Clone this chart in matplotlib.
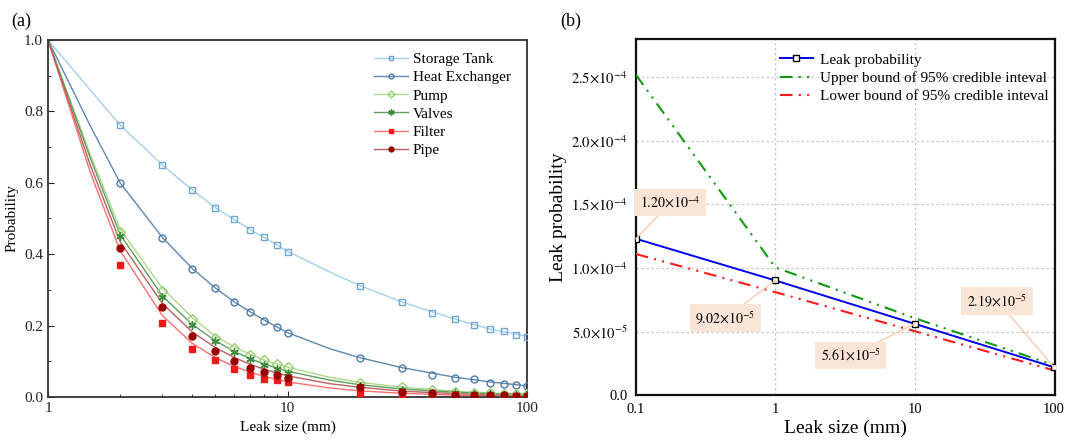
import numpy as np
import matplotlib
matplotlib.use('Agg')
import matplotlib.pyplot as plt
from matplotlib.ticker import FixedLocator, FuncFormatter, NullFormatter

plt.rcParams['font.family'] = ['Liberation Serif', 'DejaVu Serif']
plt.rcParams['mathtext.fontset'] = 'stix'

# ---- panel (a) data ----
sizes = [2, 3, 4, 5, 6, 7, 8, 9, 10, 20, 30, 40, 50, 60, 70, 80, 90, 100]
storage = [0.761, 0.649, 0.581, 0.530, 0.499, 0.468, 0.447, 0.426, 0.407, 0.311, 0.266, 0.235, 0.218, 0.202, 0.191, 0.184, 0.174, 0.169]
heat = [0.598, 0.446, 0.359, 0.304, 0.266, 0.238, 0.214, 0.196, 0.179, 0.110, 0.082, 0.062, 0.053, 0.049, 0.039, 0.036, 0.033, 0.030]
pump = [0.462, 0.297, 0.219, 0.164, 0.138, 0.118, 0.102, 0.091, 0.084, 0.038, 0.027, 0.018, 0.014, 0.012, 0.010, 0.009, 0.008, 0.007]
valves = [0.451, 0.279, 0.201, 0.157, 0.126, 0.107, 0.088, 0.078, 0.068, 0.030, 0.020, 0.012, 0.010, 0.008, 0.007, 0.006, 0.005, 0.005]
filt = [0.370, 0.207, 0.133, 0.102, 0.077, 0.062, 0.049, 0.046, 0.041, 0.011, 0.008, 0.006, 0.004, 0.003, 0.002, 0.002, 0.002, 0.002]
pipe = [0.416, 0.253, 0.171, 0.129, 0.100, 0.082, 0.070, 0.060, 0.054, 0.028, 0.014, 0.010, 0.006, 0.005, 0.004, 0.004, 0.003, 0.003]

# fitted curves
fit_x = [1, 1.5, 2, 3, 4, 5, 6, 7, 8, 10, 15, 20, 30, 50, 70, 100]
storage_fit = [1.0, 0.86, 0.762, 0.650, 0.580, 0.530, 0.497, 0.468, 0.447, 0.408, 0.350, 0.312, 0.266, 0.218, 0.190, 0.170]
heat_fit = [1.0, 0.76, 0.600, 0.447, 0.360, 0.305, 0.266, 0.238, 0.215, 0.180, 0.135, 0.110, 0.082, 0.055, 0.042, 0.031]
pump_fit = [1.0, 0.68, 0.470, 0.305, 0.222, 0.170, 0.140, 0.119, 0.103, 0.083, 0.055, 0.041, 0.027, 0.016, 0.011, 0.008]
valves_fit = [1.0, 0.67, 0.455, 0.283, 0.203, 0.157, 0.127, 0.107, 0.092, 0.072, 0.047, 0.034, 0.022, 0.013, 0.009, 0.006]
pipe_fit = [1.0, 0.65, 0.435, 0.262, 0.182, 0.138, 0.110, 0.091, 0.077, 0.059, 0.037, 0.027, 0.016, 0.009, 0.006, 0.004]
filt_fit = [1.0, 0.63, 0.410, 0.228, 0.150, 0.110, 0.085, 0.069, 0.057, 0.042, 0.025, 0.017, 0.010, 0.005, 0.003, 0.002]

names_a = ['Storage Tank', 'Heat Exchanger', 'Pump', 'Valves', 'Filter', 'Pipe']

# ---- panel (b) data ----
leak_x = [0.1, 1, 10, 100]
leak_p = [1.23e-4, 9.02e-5, 5.61e-5, 2.19e-5]
upper = [2.52e-4, 1.005e-4, 6.05e-5, 2.36e-5]
lower = [1.11e-4, 8.1e-5, 5.03e-5, 1.95e-5]
leak_labels = [r'$1.20{\times}10^{-4}$', r'$9.02{\times}10^{-5}$', r'$5.61{\times}10^{-5}$', r'$2.19{\times}10^{-5}$']

fig = plt.figure(figsize=(10.67, 4.4), dpi=100)

# ================= (a) =================
ax = fig.add_axes([0.045, 0.098, 0.449, 0.811])
series = [
    (storage, storage_fit, '#a6d0ea', '#6fa8d2', 's', 'none', 5),
    (heat, heat_fit, '#5f88b0', '#4f7ba8', 'o', 'none', 5),
    (pump, pump_fit, '#a9da8c', '#98cf72', 'D', 'none', 5),
    (valves, valves_fit, '#5f9e5f', '#3d8a3d', (6, 2, 0), '#3d8a3d', 6),
    (filt, filt_fit, '#ff6f6f', '#f01818', 's', '#f01818', 5),
    (pipe, pipe_fit, '#b86060', '#9a0000', 'o', '#9a0000', 5),
]
for (vals, fit, lc, mc, mk, mfc, ms), name in zip(series, names_a):
    ax.plot(fit_x, fit, color=lc, lw=1.0, zorder=2)
    ax.plot(sizes, vals, linestyle='none', marker=mk, markersize=ms,
            markerfacecolor=mfc, markeredgecolor=mc, markeredgewidth=1.0, zorder=3)
    # legend handle
    ax.plot([], [], color=lc, lw=1.0, marker=mk, markersize=ms - 1.5,
            markerfacecolor=mfc, markeredgecolor=mc, label=name)

ax.set_xscale('log')
ax.set_xlim(1, 100)
ax.set_ylim(0, 1.0)
ax.set_yticks([0, 0.2, 0.4, 0.6, 0.8, 1.0])
ax.set_yticks([0.1, 0.3, 0.5, 0.7, 0.9], minor=True)
ax.xaxis.set_major_locator(FixedLocator([1, 10, 100]))
ax.xaxis.set_major_formatter(FuncFormatter(lambda v, p: '%d' % v))
ax.xaxis.set_minor_formatter(NullFormatter())
ax.tick_params(which='both', direction='in', labelsize=11, colors='#222222')
ax.tick_params(which='major', length=4)
ax.tick_params(which='minor', length=2.5)
ax.yaxis.set_major_formatter(FuncFormatter(lambda v, p: '%.1f' % v))
for s in ax.spines.values():
    s.set_linewidth(1.3)
    s.set_color('#333333')
ax.set_xlabel('Leak size (mm)', fontsize=11, labelpad=4)
ax.set_ylabel('Probability', fontsize=11, labelpad=4)
ax.legend(loc='upper left', bbox_to_anchor=(0.655, 1.0), frameon=False, fontsize=11,
          handlelength=2.2, labelspacing=0.3, handletextpad=0.35, borderpad=0.3)
fig.text(0.011, 0.94, '(a)', fontsize=13)

# ================= (b) =================
bx = fig.add_axes([0.596, 0.102, 0.393, 0.809])
bx.plot(leak_x, leak_p, color='#0000ee', lw=1.4, marker='s', markersize=4,
        markerfacecolor='white', markeredgecolor='black', markeredgewidth=1.0,
        label='Leak probability', zorder=4)
bx.plot(leak_x, upper, color='#119911', lw=1.5, linestyle=(0, (6, 3, 1, 3, 1, 3)),
        label='Upper bound of 95% credible inteval', zorder=3)
bx.plot(leak_x, lower, color='#ff1a1a', lw=1.5, linestyle=(0, (6, 3, 1, 3, 1, 3)),
        label='Lower bound of 95% credible inteval', zorder=3)

bx.set_xscale('log')
bx.set_xlim(0.1, 102)
bx.set_ylim(0, 2.8e-4)
bx.xaxis.set_major_locator(FixedLocator([0.1, 1, 10, 100]))
bx.xaxis.set_major_formatter(FuncFormatter(lambda v, p: ('%g' % v)))
bx.xaxis.set_minor_locator(FixedLocator([]))
bx.set_yticks([0, 0.5e-4, 1.0e-4, 1.5e-4, 2.0e-4, 2.5e-4])


def sci(v, p):
    if v == 0:
        return '0.0'
    e = int(np.floor(np.log10(v) + 1e-9))
    m = v / 10 ** e
    return r'$%.1f{\times}10^{%d}$' % (m, e)


bx.yaxis.set_major_formatter(FuncFormatter(sci))
bx.tick_params(which='both', length=0, labelsize=10.5, pad=6)
bx.grid(True, which='major', linestyle=(0, (2, 2)), color='#c8c8c8', lw=0.9)
for s in bx.spines.values():
    s.set_linewidth(1.6)
    s.set_color('#111111')
bx.set_xlabel('Leak size (mm)', fontsize=14, labelpad=2)
bx.set_ylabel('Leak probability', fontsize=14, labelpad=3)
bx.legend(loc='upper left', bbox_to_anchor=(0.31, 1.0), frameon=False, fontsize=11,
          handlelength=2.2, labelspacing=0.3, handletextpad=0.45)

offsets = [(25, 26), (-36, -27), (-46, -23), (-41, 48)]
for xv, yv, lab, off in zip(leak_x, leak_p, leak_labels, offsets):
    bx.annotate(lab, xy=(xv, yv), xytext=off, textcoords='offset points',
                ha='center', va='center', fontsize=10,
                bbox=dict(boxstyle='square,pad=0.4', fc='#fbe5d6', ec='none'),
                arrowprops=dict(arrowstyle='-', color='#f8cbad', lw=1.0,
                                shrinkA=0, shrinkB=0),
                zorder=5)
fig.text(0.525, 0.94, '(b)', fontsize=13)

fig.savefig('out.png', dpi=100)
